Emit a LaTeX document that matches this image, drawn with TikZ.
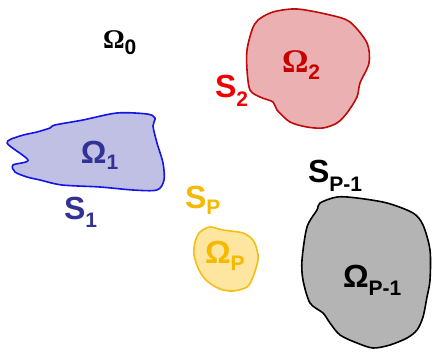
\documentclass[tikz,border=0pt]{standalone}
\usepackage{fontspec}
\setmainfont{Liberation Sans}
\newfontfamily\serifbf{Liberation Serif}
\definecolor{blueline}{RGB}{20,20,230}
\definecolor{bluefill}{RGB}{192,192,228}
\definecolor{bluetext}{RGB}{50,50,150}
\definecolor{redline}{RGB}{190,10,10}
\definecolor{redfill}{RGB}{234,176,178}
\definecolor{redtext}{RGB}{200,0,0}
\definecolor{sred}{RGB}{240,0,0}
\definecolor{yelline}{RGB}{245,190,20}
\definecolor{yelfill}{RGB}{255,230,160}
\definecolor{yeltext}{RGB}{245,185,0}
\definecolor{grayfill}{RGB}{180,180,180}
\newcommand\bigS[1]{{\fontsize{32}{32}\selectfont\bfseries #1}}
\newcommand\smallsub[2]{\raisebox{#1}{\fontsize{21}{21}\selectfont\bfseries #2}}
\tikzset{
  blob/.style={line width=1.6pt, line join=round},
  lab/.style={anchor=base west, inner sep=0pt, outer sep=0pt}
}
\begin{document}
\begin{tikzpicture}[x=1pt,y=-1pt]
\useasboundingbox (0,0) rectangle (432,352);
% Omega_1 (blue)
\draw[blob, draw=blueline, fill=bluefill] plot[smooth cycle, tension=0.5] coordinates {
 (7,143) (20,136) (37,132) (50,128) (55,125) (83,120) (117,113) (147,114) (155,118)
 (153,126) (157,143) (163,163) (164,180) (157,190) (133,190) (100,187) (62,185)
 (40,180) (27,177) (15,172) (13,165) (28,160)};
% Omega_2 (red)
\draw[blob, draw=redline, fill=redfill] plot[smooth cycle, tension=0.5] coordinates {
 (258,20) (273,12) (297,9) (330,15) (350,22) (367,43) (369,63) (360,83) (357,97)
 (347,113) (337,123) (323,128) (307,127) (290,122) (277,110) (273,102) (260,97)
 (250,90) (247,70) (247,50) (252,30)};
% Omega_P (yellow)
\draw[blob, draw=yelline, fill=yelfill] plot[smooth cycle, tension=0.5] coordinates {
 (200,232) (210,227) (223,230) (243,233) (253,240) (257,250) (258,260) (253,277)
 (247,287) (233,291) (220,289) (207,281) (199,270) (194,255) (195,242)};
% Omega_{P-1} (gray)
\draw[blob, draw=black, fill=grayfill] plot[smooth cycle, tension=0.5] coordinates {
 (320,203) (337,197) (357,198) (387,203) (413,213) (423,225) (430,250) (430,280)
 (427,297) (423,317) (417,330) (407,338) (390,345) (373,348) (357,343) (340,335)
 (330,323) (323,313) (310,303) (303,280) (302,260) (307,227) (317,210)};
% labels
\node[lab] (o0) at (103,49) {{\serifbf\fontsize{27}{27}\selectfont\bfseries Ω}\smallsub{-6pt}{0}};
\node[lab, text=bluetext] (o1) at (81,164) {\bigS{Ω}\smallsub{-6pt}{1}};
\node[lab, text=bluetext] (s1) at (64,220) {\bigS{S}\smallsub{-8pt}{1}};
\node[lab, text=redtext] (o2) at (282,73) {{\serifbf\fontsize{33}{33}\selectfont\bfseries Ω}\smallsub{-7pt}{2}};
\node[lab, text=sred] (s2) at (215,98) {\bigS{S}\smallsub{-9pt}{2}};
\node[lab, text=yeltext] (sp) at (185,209) {\bigS{S}\smallsub{-6pt}{P}};
\node[lab, text=yeltext] (op) at (205,264) {\bigS{Ω}\smallsub{-7pt}{P}};
\node[lab] (spm) at (308,183) {\bigS{S}\smallsub{-9pt}{P-1}};
\node[lab] (opm) at (343,288) {\bigS{Ω}\smallsub{-8pt}{P-1}};
\end{tikzpicture}
\end{document}
